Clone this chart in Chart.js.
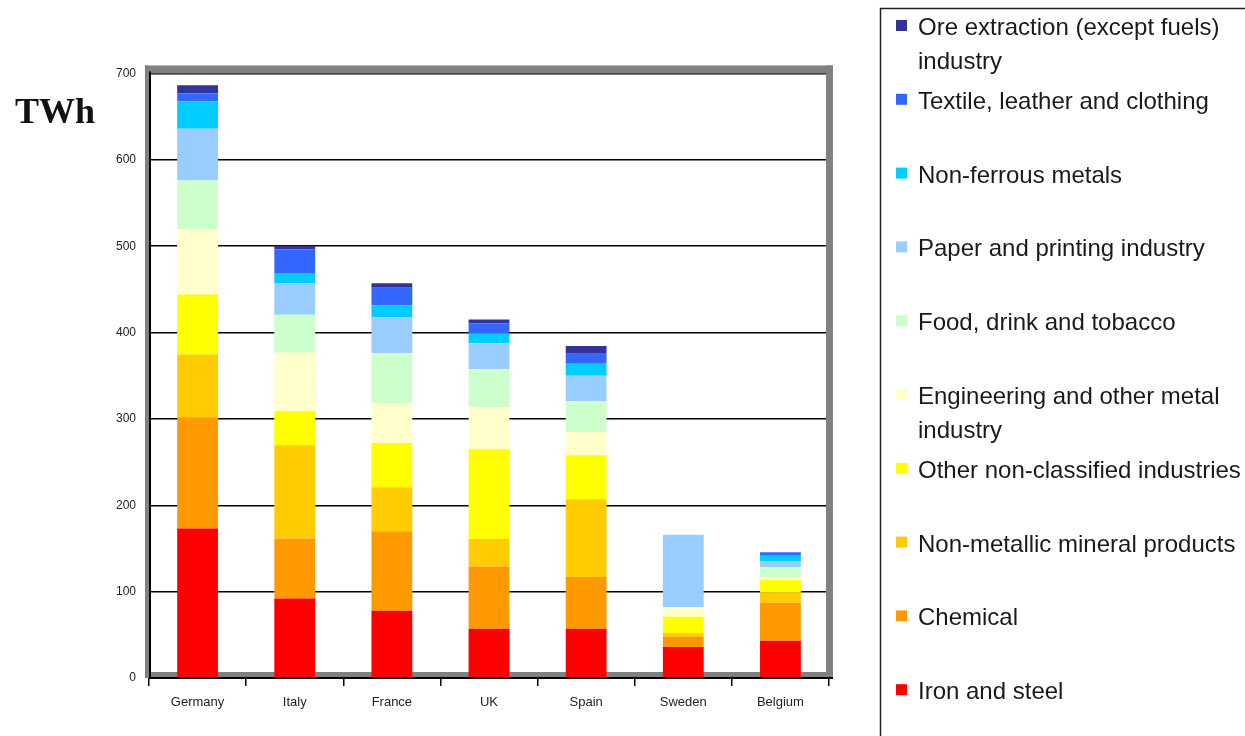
<!DOCTYPE html>
<html>
<head>
<meta charset="utf-8">
<script src="https://cdn.jsdelivr.net/npm/chart.js@4.4.1/dist/chart.umd.min.js"></script>
<style>
  html, body { margin: 0; padding: 0; background: #fff; }
  #wrap { position: relative; width: 1245px; height: 736px; }
  #unit { position: absolute; left: 15px; top: 90px; font: bold 36px "Liberation Serif", "DejaVu Serif", serif; color: #111; }
</style>
</head>
<body>
<div id="wrap">
  <canvas id="c" width="1245" height="736"></canvas>
  <div id="unit">TWh</div>
</div>
<script>
// Industrial electricity consumption by sector, TWh
const categories = ['Germany', 'Italy', 'France', 'UK', 'Spain', 'Sweden', 'Belgium'];

const ironSteel          = [173,   92,   78,   57,   57,   36,   43];
const chemical           = [129,   69.5, 92,   72,   60,   12,   44];
const nonMetallic        = [72.5,  108,  51,   32,   90,   4,    12];
const otherNonClassified = [69.5,  39.5, 51,   104,  51,   19,   14.5];
const engineering        = [76,    67.5, 46,   48.5, 27,   11,   3.5];
const foodDrink          = [56,    44,   58,   44,   35.5, 0,    11.5];
const paperPrinting      = [60,    37,   41.5, 30,   29.5, 84,   7];
const nonFerrous         = [32,    11.5, 14,   11.5, 14,   0,    6];
const textile            = [9,     27.5, 20.5, 11.5, 11.5, 0,    4];
const oreExtraction      = [9.5,   4,    5,    4.5,  9,    0,    0];

const yTicks = [0, 100, 200, 300, 400, 500, 600, 700];

// Stack order from the bottom up; legend lines may wrap with '\n'
const series = [
  { name: 'Iron and steel', data: ironSteel, color: '#FF0000' },
  { name: 'Chemical', data: chemical, color: '#FF9900' },
  { name: 'Non-metallic mineral products', data: nonMetallic, color: '#FFCC00' },
  { name: 'Other non-classified industries', data: otherNonClassified, color: '#FFFF00' },
  { name: 'Engineering and other metal\nindustry', data: engineering, color: '#FFFFCC' },
  { name: 'Food, drink and tobacco', data: foodDrink, color: '#CCFFCC' },
  { name: 'Paper and printing industry', data: paperPrinting, color: '#99CCFF' },
  { name: 'Non-ferrous metals', data: nonFerrous, color: '#00CCFF' },
  { name: 'Textile, leather and clothing', data: textile, color: '#3366FF' },
  { name: 'Ore extraction (except fuels)\nindustry', data: oreExtraction, color: '#333399' }
];

// Gray 3D-style wall around the plot plus black axis lines
const framePlugin = {
  id: 'frame',
  beforeDatasetsDraw(chart) {
    const { ctx, chartArea: a } = chart;
    ctx.save();
    ctx.fillStyle = '#808080';
    ctx.fillRect(a.left - 4, a.top - 8, a.right - a.left + 8, 8);     // top
    ctx.fillRect(a.right - 3, a.top - 8, 7, a.bottom - a.top + 8);    // right
    ctx.fillRect(a.left - 4, a.bottom - 6, a.right - a.left + 8, 6);  // bottom
    ctx.fillRect(a.left - 4, a.top - 8, 4, a.bottom - a.top + 8);     // left
    ctx.strokeStyle = '#000';
    ctx.lineWidth = 2;
    ctx.beginPath();
    ctx.moveTo(a.left + 1, a.top - 2);
    ctx.lineTo(a.left + 1, a.bottom);
    ctx.moveTo(a.left, a.bottom);
    ctx.lineTo(a.right + 4, a.bottom);
    ctx.stroke();
    ctx.restore();
  }
};

// Boxed legend on the right, top of the stack listed first
const boxLegend = {
  id: 'boxLegend',
  afterDraw(chart) {
    const { ctx } = chart;
    ctx.save();
    ctx.strokeStyle = '#222';
    ctx.lineWidth = 1.5;
    ctx.strokeRect(880.5, 8.5, 420, 800);
    ctx.font = '24px "Liberation Sans", Arial, sans-serif';
    ctx.textBaseline = 'alphabetic';
    const items = chart.data.datasets.slice().reverse();
    items.forEach((ds, i) => {
      const base = 35 + i * 73.8;
      ctx.fillStyle = ds.backgroundColor;
      ctx.fillRect(896, base - 15, 11, 11);
      ctx.fillStyle = '#1a1a1a';
      ds.legendText.split('\n').forEach((line, k) => {
        ctx.fillText(line, 918, base + k * 33.5);
      });
    });
    ctx.restore();
  }
};

new Chart(document.getElementById('c'), {
  type: 'bar',
  data: {
    labels: categories,
    datasets: series.map(s => ({
      label: s.name.replace('\n', ' '),
      legendText: s.name,
      data: s.data,
      backgroundColor: s.color,
      borderWidth: 0,
      barPercentage: 0.42,
      categoryPercentage: 1
    }))
  },
  options: {
    responsive: false,
    animation: false,
    layout: { padding: { left: 0, top: 73.5, right: 416, bottom: 0 } },
    plugins: { legend: { display: false }, tooltip: { enabled: false } },
    scales: {
      x: {
        stacked: true,
        afterFit(scale) { scale.height = 58; },
        border: { display: false },
        grid: { offset: true, drawOnChartArea: false, drawTicks: true, tickLength: 8, color: '#000', lineWidth: 1.5 },
        ticks: { padding: 9, color: '#222', font: { family: '"Liberation Sans", Arial, sans-serif', size: 13 } }
      },
      y: {
        stacked: true,
        min: 0,
        max: 700,
        afterFit(scale) { scale.width = 149; },
        afterBuildTicks(scale) { scale.ticks = yTicks.map(v => ({ value: v })); },
        border: { display: false },
        grid: { color: '#000', lineWidth: 1.5, drawTicks: false },
        ticks: { padding: 13, color: '#222', font: { family: '"Liberation Sans", Arial, sans-serif', size: 12 } }
      }
    }
  },
  plugins: [framePlugin, boxLegend]
});
</script>
</body>
</html>
